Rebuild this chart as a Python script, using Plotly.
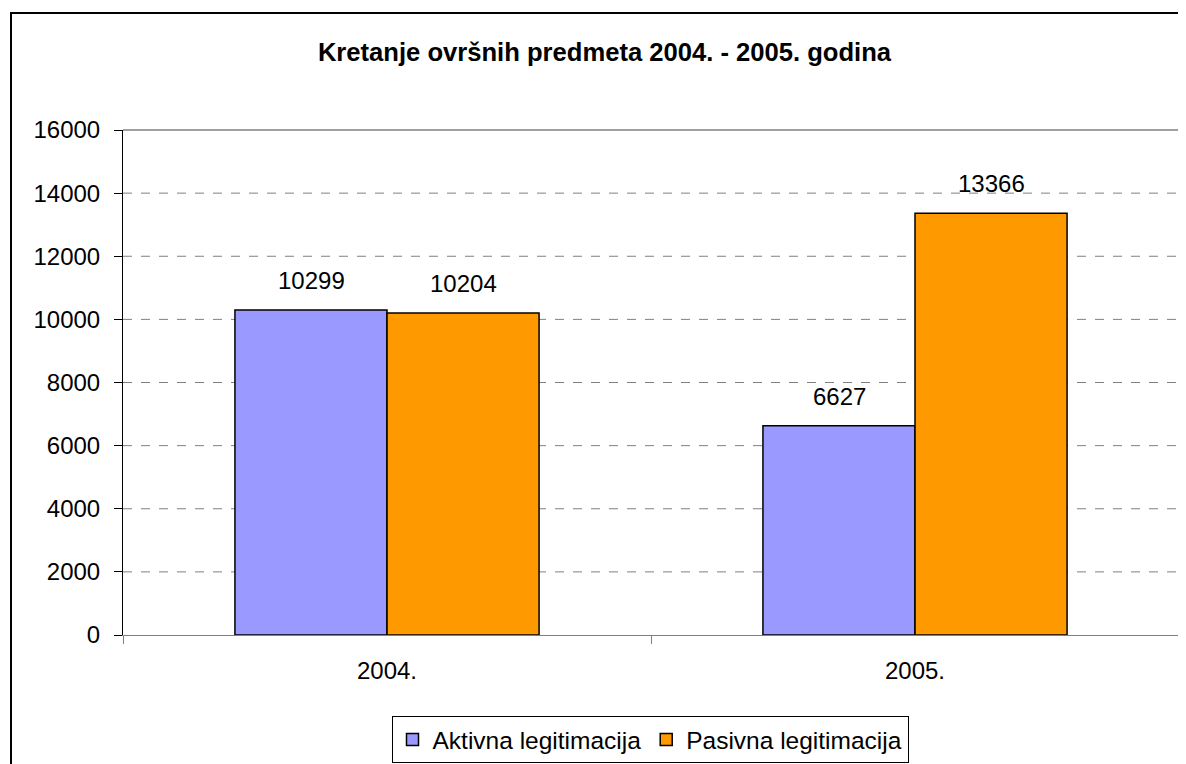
import plotly.graph_objects as go

categories = ["2004.", "2005."]
aktivna = [10299, 6627]
pasivna = [10204, 13366]
series_names = ["Aktivna legitimacija", "Pasivna legitimacija"]
title_text = "Kretanje ovršnih predmeta 2004. - 2005. godina"
y_ticks = [0, 2000, 4000, 6000, 8000, 10000, 12000, 14000, 16000]

FONT = "Liberation Sans, Arial, sans-serif"
OFF = 8  # page body margin
W, H = 1186 - OFF, 764 - OFF
L, R, T, B = 123 - OFF, 7, 130 - OFF, 129
pw, ph = W - L - R, H - T - B

fig = go.Figure()
fig.add_trace(go.Bar(x=categories, y=aktivna, name=series_names[0],
                     marker=dict(color="#9999FF", line=dict(color="black", width=1.5))))
fig.add_trace(go.Bar(x=categories, y=pasivna, name=series_names[1],
                     marker=dict(color="#FF9900", line=dict(color="black", width=1.5))))

# data labels
bar_w_px = 152
for vals, sh in ((aktivna, -bar_w_px / 2), (pasivna, bar_w_px / 2)):
    for i, v in enumerate(vals):
        fig.add_annotation(x=i, y=v, text=str(v), showarrow=False, xshift=sh,
                           yanchor="bottom", yshift=14,
                           font=dict(family=FONT, size=24, color="black"))

# dashed gridlines
for v in y_ticks[1:-1]:
    fig.add_shape(type="line", xref="paper", x0=0, x1=1, yref="y", y0=v, y1=v,
                  line=dict(color="#808080", width=1, dash="dash"), layer="below")

# outer chart border
fig.add_shape(type="rect", xref="paper", yref="paper",
              x0=(11 - 123) / pw, x1=1.2, y0=-0.5, y1=(635 - 13) / ph,
              line=dict(color="black", width=2), fillcolor="rgba(0,0,0,0)")

fig.update_layout(
    width=W, height=H,
    margin=dict(l=L, r=R, t=T, b=B, autoexpand=False),
    paper_bgcolor="white", plot_bgcolor="white",
    barmode="group", bargap=0.424, bargroupgap=0,
    title=dict(text="<b>" + title_text + "</b>", x=(604.5 - OFF) / W, xanchor="center",
               xref="container", y=1 - (52 - OFF) / H, yanchor="middle", yref="container",
               font=dict(family=FONT, size=25.6, color="black")),
    font=dict(family=FONT, size=24, color="black"),
    showlegend=True,
    legend=dict(orientation="h", x=(650 - 123) / pw, xanchor="center",
                y=(635 - 739.5) / ph, yanchor="middle",
                bordercolor="black", borderwidth=1, bgcolor="white",
                font=dict(family=FONT, size=24.5, color="black"),
                itemwidth=30, traceorder="normal"),
    xaxis=dict(type="category", range=[-0.5, 1.5], showgrid=False, showline=True,
               linecolor="#808080", linewidth=1, ticks="outside",
               tickson="boundaries", ticklen=8, tickcolor="#808080", mirror=False,
               tickangle=0, ticklabelstandoff=14, automargin=False,
               tickfont=dict(family=FONT, size=24, color="black")),
    yaxis=dict(range=[0, 16000], tickvals=y_ticks, tickformat="d", showgrid=False,
               showline=True, linecolor="black", linewidth=1, ticks="outside",
               ticklen=8, tickcolor="black", zeroline=False, ticklabelstandoff=9,
               automargin=False,
               tickfont=dict(family=FONT, size=24, color="black")),
)
# top and right plot border (gray)
fig.add_shape(type="line", xref="paper", yref="paper", x0=0, x1=1, y0=1, y1=1,
              line=dict(color="#808080", width=1.5))
fig.add_shape(type="line", xref="paper", yref="paper", x0=1, x1=1, y0=0, y1=1,
              line=dict(color="#808080", width=1.5))

fig.write_html("out.html")
